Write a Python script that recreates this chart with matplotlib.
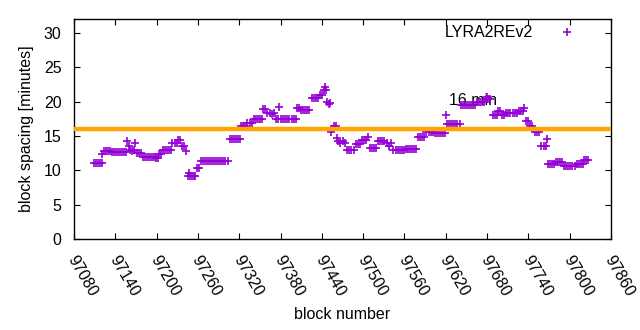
import matplotlib
matplotlib.use("Agg")
import matplotlib.pyplot as plt
from matplotlib.transforms import ScaledTranslation

plt.rcParams['font.family'] = ['Liberation Sans', 'DejaVu Sans']

# ---- data (block number, block spacing in minutes) ----
blocks = [
    97109, 97112, 97115, 97118, 97121,
    97123, 97126, 97129, 97132, 97121,
    97135, 97138, 97141, 97144, 97147, 97150, 97153, 97156,
    97157, 97160, 97162, 97164, 97167, 97169,
    97171, 97174, 97177,
    97180, 97183, 97186, 97189, 97192, 97195, 97197,
    97199, 97202,
    97204, 97207,
    97209, 97212, 97215, 97218, 97221,
    97223, 97226, 97229,
    97231, 97234,
    97237, 97240,
    97243,
    97245, 97248, 97251, 97254, 97256, 97247,
    97258, 97261,
    97264, 97267, 97270, 97273, 97276, 97279, 97282, 97285, 97288, 97291, 97294, 97297, 97300, 97303,
    97306, 97309, 97312, 97315, 97318, 97321,
    97323, 97326, 97329,
    97332, 97335, 97338,
    97341, 97344, 97347, 97350, 97353,
    97355, 97358,
    97361, 97364, 97367, 97370,
    97378,
    97373, 97376,
    97381, 97384, 97387, 97390, 97393, 97396, 97399, 97402,
    97404, 97407,
    97410, 97413, 97416, 97419, 97422,
    97425, 97428, 97431, 97434,
    97437, 97440,
    97443, 97446, 97445,
    97448, 97450, 97452,
    97453, 97455, 97457, 97460,
    97462,
    97464, 97467, 97470, 97473,
    97477, 97480, 97483, 97486,
    97489, 97492, 97495,
    97498, 97501, 97504,
    97507,
    97510, 97513, 97516, 97519,
    97522, 97525, 97528, 97531,
    97534, 97537, 97540,
    97544, 97547, 97550, 97553, 97556, 97559,
    97562, 97565, 97568, 97571, 97574, 97577,
    97580, 97583, 97586, 97589,
    97592, 97595, 97598, 97601,
    97604, 97607, 97610, 97613, 97616, 97619,
    97620,
    97622, 97625, 97628, 97631, 97634, 97637, 97640,
    97642, 97645, 97648, 97651, 97654, 97657, 97660, 97663,
    97666, 97669, 97672, 97675,
    97678, 97681, 97684, 97680,
    97688, 97691, 97694,
    97696, 97699,
    97702, 97705,
    97708, 97711, 97714, 97717, 97720, 97723,
    97726, 97729, 97732,
    97734,
    97736, 97739,
    97742, 97745,
    97749, 97752, 97755,
    97759, 97762, 97765,
    97767,
    97768, 97771, 97774, 97777,
    97780, 97783, 97786, 97789,
    97792, 97795, 97798, 97801, 97804, 97807,
    97810, 97813, 97816, 97819,
    97821, 97824, 97827,
]
spacing = [
    11.0, 11.0, 11.0, 11.0, 11.0,
    12.8, 12.8, 12.8, 12.8, 12.3,
    12.6, 12.6, 12.6, 12.6, 12.6, 12.6, 12.6, 12.6,
    14.3, 13.6, 13.0, 12.8, 12.9, 13.9,
    12.5, 12.5, 12.5,
    12.0, 11.9, 12.0, 12.0, 12.0, 12.0, 11.9,
    11.8, 11.8,
    12.4, 12.4,
    13.0, 13.0, 13.0, 13.0, 13.0,
    14.0, 14.0, 14.0,
    14.4, 14.4,
    13.5, 13.5,
    12.8,
    9.2, 9.2, 9.2, 9.2, 9.2, 9.6,
    10.4, 10.4,
    11.3, 11.3, 11.3, 11.3, 11.3, 11.3, 11.3, 11.3, 11.3, 11.3, 11.3, 11.3, 11.3, 11.3,
    14.5, 14.5, 14.5, 14.5, 14.5, 14.5,
    16.5, 16.5, 16.5,
    16.9, 16.9, 16.9,
    17.4, 17.4, 17.4, 17.4, 17.4,
    18.9, 18.9,
    18.4, 18.4, 18.2, 18.4,
    19.2,
    17.5, 17.5,
    17.45, 17.45, 17.45, 17.45, 17.45, 17.45, 17.45, 17.45,
    19.05, 19.05,
    18.7, 18.7, 18.7, 18.7, 18.7,
    20.5, 20.5, 20.5, 20.5,
    20.9, 20.9,
    21.7, 21.7, 22.1,
    20.0, 19.7, 19.8,
    15.5, 16.0, 16.5, 16.5,
    14.7,
    14.3, 13.9, 14.2, 14.0,
    12.9, 12.9, 12.9, 12.9,
    13.8, 13.8, 13.8,
    14.4, 14.4, 14.4,
    14.9,
    13.2, 13.2, 13.2, 13.2,
    14.2, 14.2, 14.2, 14.2,
    13.9, 13.6, 13.9,
    12.9, 12.9, 12.9, 12.9, 12.9, 12.9,
    13.1, 13.1, 13.1, 13.1, 13.1, 13.1,
    14.9, 14.9, 14.9, 14.9,
    15.5, 15.5, 15.5, 15.5,
    15.35, 15.35, 15.35, 15.35, 15.35, 15.35,
    18.0,
    16.7, 16.7, 16.7, 16.7, 16.7, 16.7, 16.7,
    19.5, 19.5, 19.5, 19.5, 19.5, 19.5, 19.5, 19.5,
    20.0, 20.0, 20.0, 20.0,
    20.3, 20.3, 20.3, 20.6,
    18.1, 18.1, 18.1,
    18.6, 18.6,
    18.0, 18.0,
    18.3, 18.3, 18.3, 18.3, 18.3, 18.3,
    18.6, 18.6, 18.6,
    19.1,
    17.1, 17.1,
    16.4, 16.4,
    15.6, 15.6, 15.6,
    13.5, 13.5, 13.5,
    14.5,
    10.95, 10.95, 10.95, 10.95,
    11.2, 11.2, 11.2, 11.2,
    10.65, 10.65, 10.65, 10.65, 10.65, 10.65,
    10.95, 10.95, 10.95, 10.95,
    11.45, 11.45, 11.45,
]
target_minutes = 16
target_label = "16 min"
label_pos = (97625, 20.2)
series_name = "LYRA2REv2"
x_ticks = list(range(97080, 97861, 60))
y_ticks = [0, 5, 10, 15, 20, 25, 30]
x_range = (97080, 97860)
y_range = (0, 32)

FS = 11.5

fig = plt.figure(figsize=(6.4, 3.3), dpi=100)
ax = fig.add_axes([74 / 640, 1 - 239 / 330, 537 / 640, 220 / 330])

ax.text(label_pos[0], label_pos[1], target_label, fontsize=FS, ha='left',
        va='center', color='black', zorder=1)
ax.plot(blocks, spacing, linestyle='none', marker='+', markersize=5.2,
        markeredgewidth=1.2, color='#9400d3', label=series_name, zorder=2)
ax.axhline(target_minutes, color='#ffa500', linewidth=3.2, zorder=3)

ax.set_xlim(*x_range)
ax.set_ylim(*y_range)
ax.set_xticks(x_ticks)
ax.set_yticks(y_ticks)
ax.set_xticklabels([str(t) for t in x_ticks], rotation=-60, ha='left',
                   va='top', rotation_mode='anchor', fontsize=FS)
ax.set_yticklabels([str(t) for t in y_ticks], fontsize=FS)
ax.tick_params(direction='in', length=4, width=0.8, top=True, right=True)
ax.tick_params(axis='y', pad=9)
ax.tick_params(axis='x', pad=10)
shift = ScaledTranslation(4 / 100, 0, fig.dpi_scale_trans)
for lab in ax.get_xticklabels():
    lab.set_transform(lab.get_transform() + shift)
for s in ax.spines.values():
    s.set_linewidth(1.0)

ax.set_xlabel("block number", fontsize=FS, labelpad=6)
ax.set_ylabel("block spacing [minutes]", fontsize=FS, labelpad=7)

leg = ax.legend(loc='upper right', frameon=False, markerfirst=False,
                fontsize=FS, handlelength=1.0, handletextpad=1.6,
                borderaxespad=0.0, borderpad=0.0,
                bbox_to_anchor=(0.933, 0.972))

fig.savefig("out.png", dpi=100)
